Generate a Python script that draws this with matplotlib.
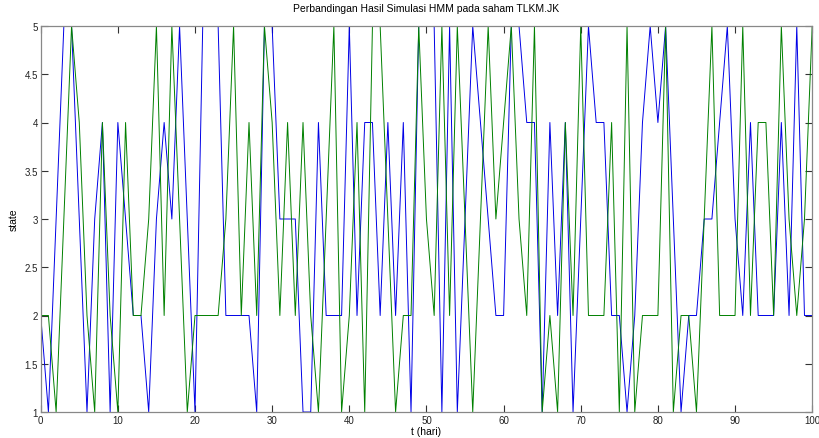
#!/usr/bin/env python3
"""
Perbandingan hasil simulasi HMM (state per hari) untuk saham TLKM.JK.
Simpan sebagai out.png.
"""

import numpy as np
import matplotlib
matplotlib.use('Agg')
import matplotlib.pyplot as plt
from matplotlib.ticker import FuncFormatter

plt.rcParams['font.family'] = ['Liberation Sans', 'DejaVu Sans']

# Data: state per hari (t = 0..100)
t_hari = np.arange(0, 101)

state_aktual = [
    2, 1, 3, 5, 5, 3, 1, 3, 4, 1,
    4, 3, 2, 2, 1, 3, 4, 3, 5, 3,
    1, 5, 5, 5, 2, 2, 2, 2, 1, 5,
    5, 3, 3, 3, 1, 1, 4, 2, 2, 2,
    5, 2, 4, 4, 2, 4, 2, 4, 1, 5,
    5, 5, 1, 5, 1, 3, 5, 4, 3, 2,
    2, 5, 5, 4, 4, 1, 4, 2, 4, 1,
    3, 5, 4, 4, 2, 2, 1, 2, 4, 5,
    4, 5, 3, 1, 2, 2, 3, 3, 4, 5,
    3, 2, 4, 2, 2, 2, 4, 2, 5, 2,
    2,
]

state_simulasi = [
    2, 2, 1, 3, 5, 4, 2, 1, 4, 2,
    1, 4, 2, 2, 3, 5, 2, 5, 3, 1,
    2, 2, 2, 2, 3, 5, 2, 4, 2, 5,
    4, 2, 4, 2, 4, 2, 1, 3, 5, 1,
    2, 4, 1, 5, 5, 3, 1, 2, 2, 5,
    3, 2, 5, 2, 5, 3, 1, 3, 5, 3,
    4, 5, 3, 2, 5, 1, 2, 1, 4, 2,
    5, 2, 2, 2, 4, 1, 5, 1, 2, 2,
    2, 5, 1, 2, 2, 1, 3, 5, 2, 2,
    2, 5, 2, 4, 4, 2, 5, 3, 2, 3,
    5,
]

y_ticks = [1, 1.5, 2, 2.5, 3, 3.5, 4, 4.5, 5]
x_ticks = [0, 10, 20, 30, 40, 50, 60, 70, 80, 90, 100]

fig = plt.figure(figsize=(8.19, 4.39), dpi=100, facecolor='white')
ax = fig.add_axes([40.7 / 819, 1 - 413 / 439, 771.5 / 819, 386 / 439])

ax.plot(t_hari, state_aktual, color=(0, 0, 0.9), linewidth=0.7)
ax.plot(t_hari, state_simulasi, color=(0, 0.5, 0), linewidth=0.7)

ax.set_xlim(0, 100)
ax.set_ylim(1, 5)
ax.set_xticks(x_ticks)
ax.set_yticks(y_ticks)
ax.yaxis.set_major_formatter(FuncFormatter(lambda v, p: f'{v:g}'))

ax.tick_params(direction='in', length=5, width=0.8, labelsize=7,
               top=True, right=True, color='#333333', labelcolor='#222222', pad=2)
for s in ax.spines.values():
    s.set_color('#888888')
    s.set_linewidth(0.9)

ax.set_title('Perbandingan Hasil Simulasi HMM pada saham TLKM.JK', fontsize=7.5, pad=11)
ax.set_xlabel('t (hari)', fontsize=7.5, labelpad=1)
ax.set_ylabel('state', fontsize=7.5, labelpad=4)

fig.savefig('out.png', dpi=100, facecolor='white')
